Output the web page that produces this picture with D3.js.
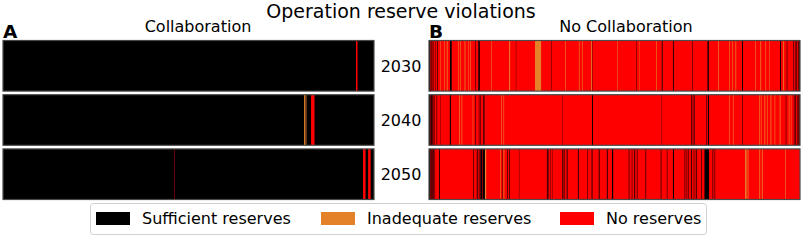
<!DOCTYPE html>
<html>
<head>
<meta charset="utf-8">
<script src="https://cdn.jsdelivr.net/npm/d3@7"></script>
<style>
  body { margin: 0; background: #fff; }
  text { font-family: "DejaVu Sans", sans-serif; fill: #000; }
</style>
</head>
<body>
<script>
// Categories and colours
var categories = ["Sufficient reserves", "Inadequate reserves", "No reserves"];
var catColors = ["#000000", "#e4822a", "#ff0000"];

var years = ["2030", "2040", "2050"];
var panelTitles = ["Collaboration", "No Collaboration"];
var panelLetters = ["A", "B"];
var nDays = 365;

// base category of every strip (rest of the year)
var collabBase = [0, 0, 0];
var noCollabBase = [2, 2, 2];

// events: [start day, length (days), category]
var collab2030 = [[347.3, 1.5, 2]];
var collab2040 = [[296.2, 0.9, 1], [297.6, 0.9, 1], [303, 3.5, 2]];
var collab2050 = [[168.3, 0.4, 2], [354.2, 2.5, 2], [359.2, 2.5, 2]];

var noCollab2030 = [
  [0, 1.2, 0], [1.8, 0.6, 0], [2.8, 0.5, 0], [4.5, 0.4, 0], [6.5, 0.4, 0], [8, 0.6, 0],
  [11, 0.5, 1], [15, 0.6, 1], [17.5, 0.8, 1], [20.7, 1.6, 0],
  [28.5, 0.6, 1], [30.5, 0.6, 1], [35, 0.8, 1], [38.5, 0.5, 1], [40.5, 0.6, 1],
  [45.5, 0.5, 0], [48.5, 1.5, 0], [61, 0.5, 1], [78.8, 1, 1], [85.5, 0.3, 0],
  [104.3, 6, 1], [120, 0.4, 0], [133.8, 0.6, 1], [147.5, 0.6, 1], [150.5, 0.6, 1],
  [159.5, 0.8, 1], [161, 0.3, 0], [185, 0.5, 1], [204, 0.4, 0], [207, 0.4, 1],
  [223.4, 0.6, 1], [229, 0.8, 0], [240, 0.8, 0], [258.8, 0.5, 0], [274, 1.3, 0],
  [284.4, 0.7, 1], [295.5, 0.6, 1], [298.2, 0.6, 1], [301.5, 0.7, 1], [308, 0.9, 0],
  [320.8, 0.6, 1], [326, 0.8, 1], [331, 0.6, 1], [334.5, 0.5, 1], [345.4, 0.9, 0],
  [348.5, 0.8, 1], [352, 0.5, 0], [358.5, 0.5, 0], [360, 0.5, 0], [361.5, 0.6, 0],
  [363, 0.6, 0], [364.3, 0.7, 0]
];
var noCollab2040 = [
  [0, 1.5, 0], [2, 0.8, 0], [3, 0.6, 0], [4, 0.4, 0], [5, 0.4, 0], [7.5, 0.5, 0],
  [11, 0.3, 0], [20.5, 1, 0], [29.5, 0.7, 1], [32, 0.7, 1], [43, 0.5, 1],
  [45.5, 0.5, 0], [49, 0.5, 0], [50.5, 0.5, 0], [53.5, 1, 0], [71, 0.6, 1],
  [73.3, 0.6, 1], [131.5, 0.3, 0], [160.4, 0.9, 0], [229, 0.3, 0],
  [257.8, 0.6, 0], [259.5, 0.6, 0], [261, 0.5, 0], [273, 0.6, 0], [274.5, 1, 0],
  [295.5, 0.6, 1], [299, 0.6, 1], [308, 0.5, 0], [325, 0.8, 1], [327, 0.5, 1],
  [330, 0.8, 1], [332.5, 0.6, 1], [336, 0.8, 1], [340, 0.6, 1], [345, 0.8, 1],
  [351, 0.5, 0], [354, 0.6, 1], [356, 0.5, 1], [359, 0.5, 0], [360.5, 0.6, 0],
  [362, 0.5, 0], [363.5, 0.6, 0], [364.5, 0.5, 0]
];
var noCollab2050 = [
  [0, 1.5, 0], [2, 0.6, 0], [3, 0.6, 0], [4.3, 0.6, 0], [5.5, 0.5, 0], [10, 0.8, 0],
  [43.5, 0.6, 0], [47, 0.8, 0], [49, 0.6, 0], [50.5, 2, 0], [53, 2, 0], [55.1, 1.2, 1],
  [70, 0.6, 1], [72, 0.4, 0], [73.3, 0.8, 1], [77, 0.6, 0], [79, 0.6, 0], [88.5, 0.3, 0],
  [116, 0.8, 0], [117.5, 0.4, 0], [119, 0.4, 0], [121, 0.3, 0], [131, 0.6, 0],
  [132.5, 0.8, 0], [135.5, 0.8, 0], [146.5, 0.8, 0], [155.5, 0.5, 0], [160, 0.8, 0],
  [167, 0.8, 0], [175, 0.8, 0], [180, 1.2, 0], [196.5, 0.6, 0], [199.5, 0.5, 0],
  [202, 0.8, 0], [204.5, 0.6, 0], [213, 0.6, 0], [228, 0.6, 0], [234, 0.5, 0],
  [240, 1, 0], [251.5, 0.6, 0], [253.5, 0.5, 0], [255, 0.5, 0], [258, 0.8, 0],
  [260.5, 0.5, 0], [262.5, 0.8, 0], [268, 0.6, 0], [271, 4.5, 0], [279, 0.6, 0],
  [281, 0.5, 0], [311, 1.5, 1], [313.5, 0.8, 1], [325, 0.8, 1], [327.5, 0.8, 1],
  [350.5, 0.6, 1]
];

var panelEvents = [
  [collab2030, collab2040, collab2050],
  [noCollab2030, noCollab2040, noCollab2050]
];
var panelBase = [collabBase, noCollabBase];

// layout
var width = 803, height = 240;
var panelX = [3, 429], stripW = 371;
var stripTop = 40.5, stripH = 49.5, stripStep = 53;

var svg = d3.select("body")
  .append("svg")
  .attr("width", width)
  .attr("height", height);

var y = d3.scaleBand()
  .domain(years)
  .range([stripTop, stripTop + stripStep * years.length])
  .paddingInner((stripStep - stripH) / stripStep)
  .paddingOuter(0)
  .align(0);

var defs = svg.append("defs");

panelTitles.forEach(function(title, p) {
  var x = d3.scaleLinear()
    .domain([0, nDays])
    .range([panelX[p], panelX[p] + stripW]);

  var g = svg.append("g");

  years.forEach(function(yr, r) {
    var clipId = "clip" + p + r;
    defs.append("clipPath").attr("id", clipId)
      .append("rect")
      .attr("x", x(0)).attr("y", y(yr))
      .attr("width", x(nDays) - x(0)).attr("height", y.bandwidth());

    var strip = g.append("g").attr("clip-path", "url(#" + clipId + ")");

    // base colour
    strip.append("rect")
      .attr("x", x(0)).attr("y", y(yr))
      .attr("width", x(nDays) - x(0)).attr("height", y.bandwidth())
      .attr("fill", catColors[panelBase[p][r]]);

    // event stripes
    strip.selectAll("rect.ev")
      .data(panelEvents[p][r])
      .enter()
      .append("rect")
      .attr("class", "ev")
      .attr("x", function(d) { return x(d[0]); })
      .attr("y", y(yr))
      .attr("width", function(d) { return x(d[0] + d[1]) - x(d[0]); })
      .attr("height", y.bandwidth())
      .attr("fill", function(d) { return catColors[d[2]]; });

    // frame
    g.append("rect")
      .attr("x", x(0)).attr("y", y(yr))
      .attr("width", x(nDays) - x(0)).attr("height", y.bandwidth())
      .attr("fill", "none")
      .attr("stroke", "#4a4a4a")
      .attr("stroke-width", 1.2);
  });

  // panel title and letter
  svg.append("text")
    .attr("x", p == 0 ? 198 : 626)
    .attr("y", 32)
    .attr("text-anchor", "middle")
    .attr("font-size", "16px")
    .text(title);

  svg.append("text")
    .attr("x", panelX[p])
    .attr("y", 37.5)
    .attr("font-size", "18.5px")
    .attr("font-weight", "bold")
    .text(panelLetters[p]);
});

// year labels between panels
svg.selectAll("text.year")
  .data(years)
  .enter()
  .append("text")
  .attr("class", "year")
  .attr("x", 401)
  .attr("y", function(d) { return y(d) + y.bandwidth() / 2; })
  .attr("dy", "0.36em")
  .attr("text-anchor", "middle")
  .attr("font-size", "16px")
  .text(function(d) { return d; });

// main title
svg.append("text")
  .attr("x", 401)
  .attr("y", 18)
  .attr("text-anchor", "middle")
  .attr("font-size", "19px")
  .text("Operation reserve violations");

// Legend
var legendX = [96, 321, 560];
var legend = svg.append("g");
legend.append("rect")
  .attr("x", 90.5).attr("y", 203.5)
  .attr("width", 616).attr("height", 31)
  .attr("rx", 3)
  .attr("fill", "#fff")
  .attr("stroke", "#d0d0d0");

var item = legend.selectAll("g.item")
  .data(categories)
  .enter()
  .append("g")
  .attr("class", "item")
  .attr("transform", function(d, i) { return "translate(" + legendX[i] + ",212)"; });

item.append("rect")
  .attr("width", 34).attr("height", 13)
  .attr("fill", function(d, i) { return catColors[i]; });

item.append("text")
  .attr("x", 46)
  .attr("y", 6.5)
  .attr("dy", "0.36em")
  .attr("font-size", "16px")
  .text(function(d) { return d; });
</script>
</body>
</html>
